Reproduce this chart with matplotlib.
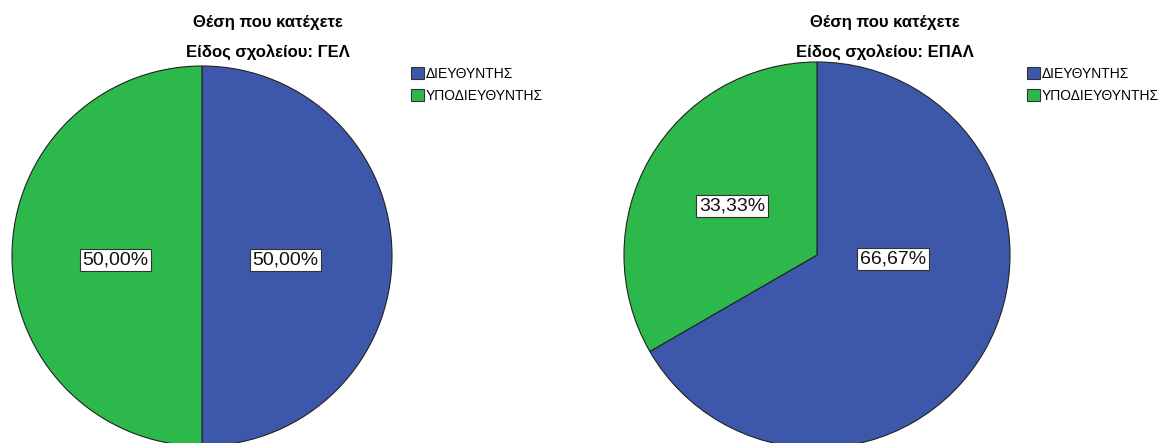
import matplotlib.pyplot as plt
from matplotlib.patches import Patch

plt.rcParams['font.family'] = ['Liberation Sans', 'DejaVu Sans']

# Θέση που κατέχετε, ανά είδος σχολείου (%)
categories = ['ΔΙΕΥΘΥΝΤΗΣ', 'ΥΠΟΔΙΕΥΘΥΝΤΗΣ']
school_types = ['ΓΕΛ', 'ΕΠΑΛ']
gel_values = [50.00, 50.00]
epal_values = [66.67, 33.33]

colors = ['#3d58ab', '#2db84b']

fig = plt.figure(figsize=(11.6, 4.43), dpi=100)
W, H = 1160, 443


def pie_axes(cx, cy, r):
    # square axes in pixel units, centre (cx, cy) measured from the top
    return fig.add_axes([(cx - r) / W, (H - cy - r) / H, 2 * r / W, 2 * r / H])


def pct_label(p):
    return f"{p:.2f}%".replace('.', ',')


panels = [
    (gel_values, school_types[0], (202, 256, 190), 268, 411,
     [(0.44, -0.02), (-0.455, -0.02)]),
    (epal_values, school_types[1], (817, 255, 193), 885, 1027,
     [(0.395, -0.02), (-0.44, 0.255)]),
]

for values, school, (cx, cy, r), title_x, leg_x, label_pos in panels:
    ax = pie_axes(cx, cy, r)
    wedges, _, autotexts = ax.pie(
        values, colors=colors, startangle=90, counterclock=False,
        autopct=pct_label, pctdistance=0.45, radius=1.0,
        wedgeprops=dict(edgecolor='#222222', linewidth=0.8),
        textprops=dict(fontsize=14, color='#111111'))
    for t, pos in zip(autotexts, label_pos):
        t.set_position(pos)
        t.set_bbox(dict(boxstyle='square,pad=0.14', facecolor='white',
                        edgecolor='#333333', linewidth=0.8))
    for w in wedges:
        w.set_clip_on(False)
    ax.set_xlim(-1, 1)
    ax.set_ylim(-1, 1)
    ax.set_aspect('auto')
    ax.axis('off')

    fig.text(title_x / W, 1 - 23 / H, 'Θέση που κατέχετε', ha='center',
             va='center', fontsize=12, fontweight='bold')
    fig.text(title_x / W, 1 - 52 / H, f'Είδος σχολείου: {school}',
             ha='center', va='center', fontsize=12, fontweight='bold')

    handles = [Patch(facecolor=c, edgecolor='#333333', linewidth=0.8)
               for c in colors]
    fig.legend(handles, categories, loc='upper left',
               bbox_to_anchor=(leg_x / W, 1 - 67 / H), frameon=False,
               fontsize=10, handlelength=0.95, handleheight=1.0,
               handletextpad=0.1, labelspacing=0.55, borderpad=0,
               borderaxespad=0)

fig.savefig('out.png', dpi=100)
